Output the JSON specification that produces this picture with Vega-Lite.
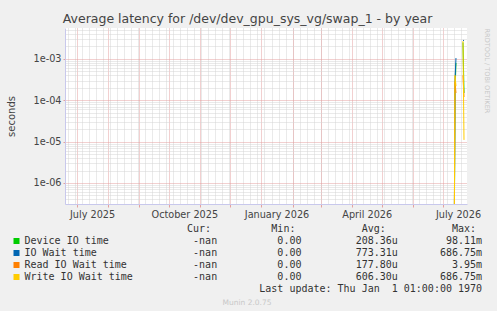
{
  "$schema": "https://vega.github.io/schema/vega-lite/v6.json",
  "background": "#f0f0f0",
  "padding": {"left": 6, "top": 12, "right": 12, "bottom": 12},
  "title": {"text": "Average latency for /dev/dev_gpu_sys_vg/swap_1 - by year", "anchor": "middle", "font": "DejaVu Sans", "fontSize": 12.5, "fontWeight": "normal", "color": "#444444", "offset": 0},
  "spacing": 4.5,
  "resolve": {"scale": {"x": "independent", "y": "independent"}},
  "datasets": {
    "series": [
      {"date": "2026-07-12", "series": "Device IO time", "seg": "a", "value": 1e-9},
      {"date": "2026-07-13", "series": "Device IO time", "seg": "a", "value": 0.00015},
      {"date": "2026-07-14", "series": "Device IO time", "seg": "a", "value": 0.0008},
      {"date": "2026-07-21", "series": "Device IO time", "seg": "b", "value": 0.0025},
      {"date": "2026-07-22", "series": "Device IO time", "seg": "b", "value": 0.00015},
      {"date": "2026-07-12", "series": "IO Wait time", "seg": "a", "value": 1e-9},
      {"date": "2026-07-13", "series": "IO Wait time", "seg": "a", "value": 0.0003},
      {"date": "2026-07-14", "series": "IO Wait time", "seg": "a", "value": 0.00105},
      {"date": "2026-07-21", "series": "IO Wait time", "seg": "b", "value": 0.0028},
      {"date": "2026-07-22", "series": "IO Wait time", "seg": "b", "value": 0.0028},
      {"date": "2026-07-12", "series": "Read IO Wait time", "seg": "a", "value": 1e-9},
      {"date": "2026-07-13", "series": "Read IO Wait time", "seg": "a", "value": 0.00028},
      {"date": "2026-07-14", "series": "Read IO Wait time", "seg": "a", "value": 0.00015},
      {"date": "2026-07-21", "series": "Read IO Wait time", "seg": "b", "value": 0.0004},
      {"date": "2026-07-22", "series": "Read IO Wait time", "seg": "b", "value": 0.00012},
      {"date": "2026-07-12", "series": "Write IO Wait time", "seg": "a", "value": 1e-9},
      {"date": "2026-07-13", "series": "Write IO Wait time", "seg": "a", "value": 0.0004},
      {"date": "2026-07-14", "series": "Write IO Wait time", "seg": "a", "value": 0.00022},
      {"date": "2026-07-21", "series": "Write IO Wait time", "seg": "b", "value": 0.0027},
      {"date": "2026-07-22", "series": "Write IO Wait time", "seg": "b", "value": 0.000011}
    ],
    "legend": [
      {"row": 0, "line": "\u200b\u00a0\u00a0\u00a0\u00a0\u00a0\u00a0\u00a0\u00a0\u00a0\u00a0\u00a0\u00a0\u00a0\u00a0\u00a0\u00a0\u00a0\u00a0\u00a0\u00a0\u00a0\u00a0\u00a0\u00a0\u00a0\u00a0\u00a0Cur:\u00a0\u00a0\u00a0\u00a0\u00a0\u00a0\u00a0\u00a0\u00a0\u00a0Min:\u00a0\u00a0\u00a0\u00a0\u00a0\u00a0\u00a0\u00a0\u00a0\u00a0\u00a0Avg:\u00a0\u00a0\u00a0\u00a0\u00a0\u00a0\u00a0\u00a0\u00a0\u00a0\u00a0Max:"},
      {"row": 1, "line": "Device IO time\u00a0\u00a0\u00a0\u00a0\u00a0\u00a0\u00a0\u00a0\u00a0\u00a0\u00a0\u00a0\u00a0\u00a0-nan\u00a0\u00a0\u00a0\u00a0\u00a0\u00a0\u00a0\u00a0\u00a0\u00a00.00\u00a0\u00a0\u00a0\u00a0\u00a0\u00a0\u00a0\u00a0\u00a0208.36u\u00a0\u00a0\u00a0\u00a0\u00a0\u00a0\u00a0\u00a098.11m"},
      {"row": 2, "line": "IO Wait time\u00a0\u00a0\u00a0\u00a0\u00a0\u00a0\u00a0\u00a0\u00a0\u00a0\u00a0\u00a0\u00a0\u00a0\u00a0\u00a0-nan\u00a0\u00a0\u00a0\u00a0\u00a0\u00a0\u00a0\u00a0\u00a0\u00a00.00\u00a0\u00a0\u00a0\u00a0\u00a0\u00a0\u00a0\u00a0\u00a0773.31u\u00a0\u00a0\u00a0\u00a0\u00a0\u00a0\u00a0686.75m"},
      {"row": 3, "line": "Read IO Wait time\u00a0\u00a0\u00a0\u00a0\u00a0\u00a0\u00a0\u00a0\u00a0\u00a0\u00a0-nan\u00a0\u00a0\u00a0\u00a0\u00a0\u00a0\u00a0\u00a0\u00a0\u00a00.00\u00a0\u00a0\u00a0\u00a0\u00a0\u00a0\u00a0\u00a0\u00a0177.80u\u00a0\u00a0\u00a0\u00a0\u00a0\u00a0\u00a0\u00a0\u00a03.95m"},
      {"row": 4, "line": "Write IO Wait time\u00a0\u00a0\u00a0\u00a0\u00a0\u00a0\u00a0\u00a0\u00a0\u00a0-nan\u00a0\u00a0\u00a0\u00a0\u00a0\u00a0\u00a0\u00a0\u00a0\u00a00.00\u00a0\u00a0\u00a0\u00a0\u00a0\u00a0\u00a0\u00a0\u00a0606.30u\u00a0\u00a0\u00a0\u00a0\u00a0\u00a0\u00a0686.75m"},
      {"row": 5, "line": "\u200b\u00a0\u00a0\u00a0\u00a0\u00a0\u00a0\u00a0\u00a0\u00a0\u00a0\u00a0\u00a0\u00a0\u00a0\u00a0\u00a0\u00a0\u00a0\u00a0\u00a0\u00a0\u00a0\u00a0\u00a0\u00a0\u00a0\u00a0\u00a0\u00a0\u00a0\u00a0\u00a0\u00a0\u00a0\u00a0\u00a0\u00a0\u00a0\u00a0Last update: Thu Jan\u00a0\u00a01 01:00:00 1970"}
    ],
    "footer": [{"label": "Munin 2.0.75"}]
  },
  "vconcat": [
    {
      "width": 402,
      "height": 176,
      "view": {"fill": "white", "stroke": null},
      "data": {"name": "series"},
      "layer": [
        {
          "mark": {"type": "line", "opacity": 0, "clip": true},
          "encoding": {
            "x": {"field": "date", "type": "temporal",
              "scale": {"type": "utc", "domain": [{"year": 2025, "month": 6, "date": 19, "utc": true}, {"year": 2026, "month": 7, "date": 25, "utc": true}]},
              "axis": {"orient": "bottom", "tickCount": {"interval": "week", "step": 1}, "grid": true, "gridColor": "#d4d4d4", "gridDash": [1, 1], "labels": false, "ticks": false, "domain": false, "title": null}},
            "y": {"field": "value", "type": "quantitative",
              "scale": {"type": "log", "domain": [3.1e-7, 0.0056], "nice": false, "zero": false},
              "axis": {"orient": "left",
                "values": [4e-7, 5e-7, 6e-7, 7e-7, 8e-7, 9e-7, 1e-6, 2e-6, 3e-6, 4e-6, 5e-6, 6e-6, 7e-6, 8e-6, 9e-6, 1e-5, 2e-5, 3e-5, 4e-5, 5e-5, 6e-5, 7e-5, 8e-5, 9e-5, 0.0001, 0.0002, 0.0003, 0.0004, 0.0005, 0.0006, 0.0007, 0.0008, 0.0009, 0.001, 0.002, 0.003, 0.004, 0.005],
                "grid": true,
                "gridColor": {"condition": {"test": "abs(log(datum.value)/LN10 - round(log(datum.value)/LN10)) < 0.001", "value": "#e4a0a0"}, "value": "#d4d4d4"},
                "gridDash": [1, 1],
                "ticks": true, "tickSize": 2,
                "tickColor": {"condition": {"test": "abs(log(datum.value)/LN10 - round(log(datum.value)/LN10)) < 0.001", "value": "#e4a0a0"}, "value": "transparent"},
                "labelExpr": "abs(log(datum.value)/LN10 - round(log(datum.value)/LN10)) < 0.001 ? '1e-0' + (-round(log(datum.value)/LN10)) : ''",
                "labelPadding": 2, "labelOverlap": false, "labelFlush": false,
                "domain": true, "domainColor": "#c8c8ec",
                "title": "seconds", "titlePadding": 17}}
          }
        },
        {
          "mark": {"type": "line", "opacity": 0, "clip": true},
          "encoding": {
            "x": {"field": "date", "type": "temporal",
              "axis": {"orient": "bottom", "tickCount": {"interval": "month", "step": 1}, "grid": true, "gridColor": "#e4a0a0", "gridDash": [1, 1], "ticks": true, "tickSize": 3, "tickColor": "#e4a0a0", "labels": false, "domain": true, "domainColor": "#c8c8ec", "title": null}},
            "y": {"field": "value", "type": "quantitative",
              "axis": {"orient": "right", "labels": false, "ticks": false, "grid": false, "domain": false,
                "title": "RRDTOOL / TOBI OETIKER", "titleAnchor": "end", "titleAlign": "left", "titleAngle": 90, "titleFont": "DejaVu Sans", "titleFontSize": 6.6, "titleFontWeight": "normal", "titleColor": "#c8c8c8", "titlePadding": 16}}
          }
        },
        {
          "mark": {"type": "line", "strokeWidth": 1, "clip": true},
          "encoding": {
            "x": {"field": "date", "type": "temporal",
              "axis": {"orient": "bottom", "values": [{"year": 2025, "month": 7, "date": 16, "utc": true}, {"year": 2025, "month": 10, "date": 16, "utc": true}, {"year": 2026, "month": 1, "date": 16, "utc": true}, {"year": 2026, "month": 4, "date": 16, "utc": true}, {"year": 2026, "month": 7, "date": 16, "utc": true}],
                "format": "%B %Y", "grid": false, "ticks": false, "domain": false, "labelPadding": 5, "labelOverlap": false, "labelFlush": false, "title": null}},
            "y": {"field": "value", "type": "quantitative", "axis": null},
            "color": {"field": "series", "type": "nominal",
              "scale": {"domain": ["Device IO time", "IO Wait time", "Read IO Wait time", "Write IO Wait time"], "range": ["#00cc00", "#0066b3", "#ff8000", "#ffcc00"]},
              "legend": null},
            "detail": {"field": "seg", "type": "nominal"}
          }
        }
      ],
      "resolve": {"axis": {"x": "independent", "y": "independent"}}
    },
    {
      "width": 400,
      "height": 60,
      "view": {"stroke": null},
      "data": {"name": "legend"},
      "mark": {"type": "point", "opacity": 0},
      "encoding": {
        "y": {"field": "line", "type": "nominal", "sort": null,
          "scale": {"type": "point", "padding": 0},
          "axis": {"orient": "left", "offset": 46, "title": null, "domain": false, "grid": false,
            "ticks": true, "tickSize": 6, "tickWidth": 6, "tickRound": false,
            "tickColor": {"condition": [
              {"test": "indexof(datum.value, 'Device IO time') == 0", "value": "#00cc00"},
              {"test": "indexof(datum.value, 'IO Wait time') == 0", "value": "#0066b3"},
              {"test": "indexof(datum.value, 'Read IO Wait time') == 0", "value": "#ff8000"},
              {"test": "indexof(datum.value, 'Write IO Wait time') == 0", "value": "#ffcc00"}
            ], "value": "transparent"},
            "labels": true, "labelAlign": "left", "labelBaseline": "middle", "labelPadding": -11, "labelLimit": 0,
            "labelOverlap": false, "labelFlush": false, "labelBound": false,
            "labelFont": "DejaVu Sans Mono", "labelFontSize": 10, "labelColor": "#333333"}}
      }
    },
    {
      "width": 364,
      "height": 1,
      "view": {"stroke": null},
      "data": {"name": "footer"},
      "mark": {"type": "text", "align": "center", "baseline": "middle", "font": "DejaVu Sans", "fontSize": 7.5, "color": "#c8c8c8"},
      "encoding": {"text": {"field": "label", "type": "nominal"}}
    }
  ],
  "config": {
    "view": {"stroke": null},
    "axis": {"labelFont": "DejaVu Sans", "labelFontSize": 9.7, "labelColor": "#444444", "titleFont": "DejaVu Sans", "titleFontSize": 10, "titleFontWeight": "normal", "titleColor": "#444444"}
  }
}
